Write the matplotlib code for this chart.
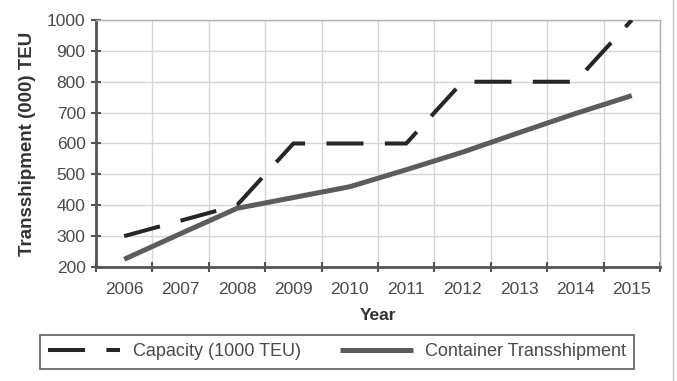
import numpy as np
import matplotlib
matplotlib.use("Agg")
import matplotlib.pyplot as plt
from matplotlib.lines import Line2D

years = ["2006", "2007", "2008", "2009", "2010", "2011", "2012", "2013", "2014", "2015"]
capacity = [300, 350, 400, 600, 600, 600, 800, 800, 800, 1000]
transshipment = [225, 308, 390, 425, 460, 515, 572, 635, 697, 755]
yticks = [200, 300, 400, 500, 600, 700, 800, 900, 1000]

plt.rcParams['font.family'] = ['Liberation Sans', 'DejaVu Sans']
txt = '#4a4a4a'

fig = plt.figure(figsize=(6.77, 3.81), dpi=100)
ax = fig.add_axes([96/677, 1 - 267/381, (660 - 96)/677, (267 - 20)/381])

x = np.arange(len(years))
ax.plot(x, capacity, color='#262626', lw=2.9, dashes=(9.2, 5.3), solid_capstyle='butt',
        dash_capstyle='butt', label='Capacity (1000 TEU)', zorder=3)
ax.plot(x, transshipment, color='#5c5c5c', lw=3.6, solid_capstyle='butt',
        label='Container Transshipment', zorder=3)

ax.set_xlim(-0.5, len(years) - 0.5)
ax.set_ylim(200, 1000)
ax.set_yticks(yticks)
ax.set_xticks(x)
ax.set_xticklabels(years)
ax.set_xticks(np.arange(-0.5, len(years)), minor=True)
ax.grid(True, which='minor', axis='x', color='#d6d6d6', lw=1.0)
ax.grid(True, which='major', axis='y', color='#d6d6d6', lw=1.0)
ax.set_axisbelow(True)

ax.tick_params(axis='x', which='major', length=0, pad=11, labelsize=12.5, labelcolor=txt)
ax.tick_params(axis='x', which='minor', length=7, direction='inout', width=1.5, color='#555555')
ax.tick_params(axis='y', length=7, direction='inout', width=1.5, color='#555555',
               pad=4, labelsize=12.5, labelcolor=txt)

for s in ['left', 'bottom']:
    ax.spines[s].set_color('#555555')
    ax.spines[s].set_linewidth(2.0)
for s in ['top', 'right']:
    ax.spines[s].set_color('#b0b0b0')
    ax.spines[s].set_linewidth(1.0)

ax.set_xlabel('Year', fontsize=12.5, fontweight='bold', color='#333333', labelpad=8)
ax.set_ylabel('Transshipment (000) TEU', fontsize=13.5, fontweight='bold', color='#333333', labelpad=8)

leg = fig.legend(loc='center', bbox_to_anchor=(337/677, 1 - 352/381), ncol=2, fontsize=13,
                 frameon=True, fancybox=False, handlelength=4.0, columnspacing=2.2,
                 handletextpad=0.7, borderpad=0.45, borderaxespad=0, labelcolor=txt)
leg.get_frame().set_edgecolor('#333333')
leg.get_frame().set_linewidth(1.2)

fig.add_artist(Line2D([673/677, 673/677], [0, 1], color='#c8c8c8', lw=1.0))

fig.savefig('out.png', dpi=100)
